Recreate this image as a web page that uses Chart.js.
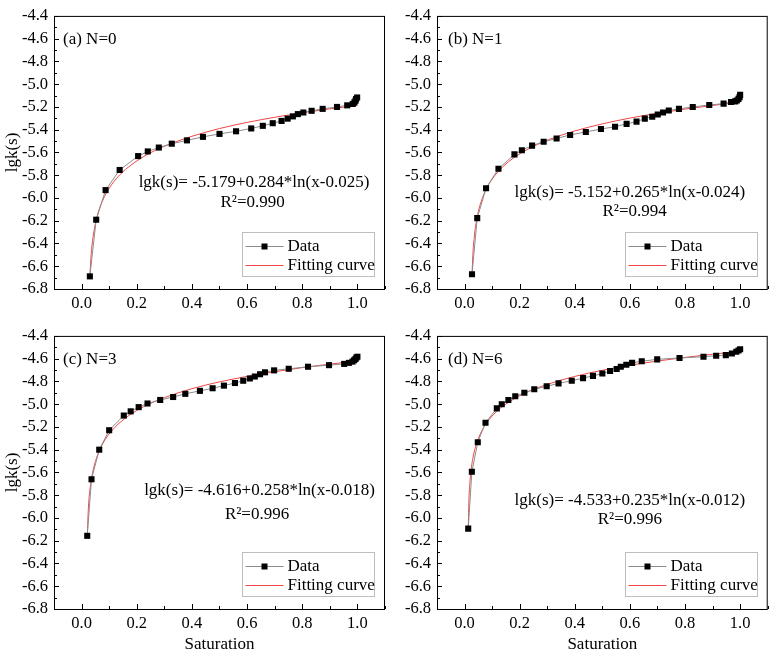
<!DOCTYPE html>
<html>
<head>
<meta charset="utf-8">
<script src="https://cdn.jsdelivr.net/npm/chart.js@4.4.1/dist/chart.umd.min.js"></script>
<style>
body{margin:0;background:#fff;width:772px;height:655px;position:relative;overflow:hidden}
canvas{position:absolute}
</style>
</head>
<body>
<canvas id="cA" width="392" height="320" style="left:0;top:0"></canvas>
<canvas id="cB" width="386" height="320" style="left:386px;top:0"></canvas>
<canvas id="cC" width="392" height="335" style="left:0;top:320px"></canvas>
<canvas id="cD" width="386" height="335" style="left:386px;top:320px"></canvas>
<script>
// tick labels
const xTicks = [0, 0.2, 0.4, 0.6, 0.8, 1.0];
const yTicks = [-6.8, -6.6, -6.4, -6.2, -6.0, -5.8, -5.6, -5.4, -5.2, -5.0, -4.8, -4.6, -4.4];

// (a) N=0
const satA = [0.030, 0.053, 0.087, 0.138, 0.205, 0.240, 0.280, 0.327, 0.382, 0.440, 0.500, 0.560, 0.615, 0.657, 0.693, 0.725, 0.747, 0.766, 0.784, 0.804, 0.834, 0.874, 0.926, 0.963, 0.983, 0.989, 0.993, 0.995, 0.999];
const lgkA = [-6.689, -6.191, -5.931, -5.754, -5.632, -5.591, -5.557, -5.523, -5.494, -5.463, -5.437, -5.414, -5.389, -5.366, -5.343, -5.323, -5.303, -5.283, -5.263, -5.249, -5.234, -5.217, -5.200, -5.186, -5.174, -5.160, -5.146, -5.131, -5.117];
const fitXA = [0.030, 0.035, 0.040, 0.050, 0.060, 0.075, 0.090, 0.110, 0.140, 0.180, 0.230, 0.300, 0.400, 0.500, 0.600, 0.700, 0.800, 0.900, 1.000];
const fitYA = [-6.684, -6.487, -6.372, -6.227, -6.131, -6.030, -5.955, -5.879, -5.793, -5.709, -5.629, -5.546, -5.458, -5.390, -5.336, -5.291, -5.251, -5.217, -5.186];

// (b) N=1
const satB = [0.027, 0.046, 0.078, 0.123, 0.181, 0.208, 0.245, 0.287, 0.334, 0.383, 0.440, 0.495, 0.546, 0.588, 0.624, 0.654, 0.681, 0.701, 0.720, 0.741, 0.778, 0.828, 0.888, 0.940, 0.967, 0.982, 0.988, 0.994, 0.998, 1.000];
const lgkB = [-6.671, -6.177, -5.914, -5.743, -5.617, -5.580, -5.540, -5.506, -5.477, -5.446, -5.420, -5.394, -5.374, -5.349, -5.329, -5.303, -5.286, -5.266, -5.249, -5.231, -5.217, -5.200, -5.183, -5.171, -5.157, -5.151, -5.143, -5.129, -5.114, -5.094];
const fitXB = [0.027, 0.030, 0.035, 0.040, 0.050, 0.060, 0.075, 0.090, 0.110, 0.140, 0.180, 0.230, 0.300, 0.400, 0.500, 0.600, 0.700, 0.800, 0.900, 1.000];
const fitYB = [-6.691, -6.508, -6.347, -6.248, -6.119, -6.033, -5.941, -5.872, -5.802, -5.723, -5.644, -5.571, -5.493, -5.411, -5.349, -5.298, -5.256, -5.219, -5.187, -5.158];

// (c) N=3
const satC = [0.0205, 0.036, 0.064, 0.100, 0.153, 0.178, 0.207, 0.239, 0.285, 0.332, 0.376, 0.429, 0.475, 0.516, 0.556, 0.586, 0.610, 0.628, 0.647, 0.665, 0.698, 0.751, 0.821, 0.897, 0.952, 0.969, 0.982, 0.988, 0.993, 0.996, 1.000];
const lgkC = [-6.157, -5.660, -5.400, -5.229, -5.100, -5.063, -5.026, -4.994, -4.963, -4.937, -4.909, -4.883, -4.860, -4.837, -4.814, -4.794, -4.774, -4.757, -4.737, -4.720, -4.703, -4.689, -4.671, -4.657, -4.646, -4.637, -4.626, -4.614, -4.603, -4.591, -4.583];
const fitXC = [0.0205, 0.025, 0.030, 0.035, 0.045, 0.055, 0.070, 0.085, 0.105, 0.135, 0.175, 0.225, 0.300, 0.400, 0.500, 0.600, 0.700, 0.800, 0.900, 1.000];
const fitYC = [-6.162, -5.896, -5.757, -5.667, -5.548, -5.467, -5.379, -5.313, -5.246, -5.170, -5.094, -5.022, -4.943, -4.864, -4.804, -4.756, -4.715, -4.679, -4.648, -4.621];

// (d) N=6
const satD = [0.0133, 0.0265, 0.048, 0.076, 0.117, 0.135, 0.159, 0.184, 0.217, 0.253, 0.298, 0.341, 0.389, 0.430, 0.466, 0.500, 0.528, 0.552, 0.567, 0.587, 0.608, 0.643, 0.699, 0.780, 0.867, 0.913, 0.948, 0.970, 0.986, 0.994, 1.000];
const lgkD = [-6.094, -5.594, -5.334, -5.163, -5.037, -5.000, -4.963, -4.931, -4.900, -4.869, -4.843, -4.817, -4.794, -4.771, -4.751, -4.731, -4.709, -4.691, -4.671, -4.654, -4.637, -4.623, -4.606, -4.594, -4.583, -4.574, -4.569, -4.554, -4.540, -4.529, -4.517];
const fitXD = [0.0133, 0.016, 0.020, 0.025, 0.030, 0.040, 0.050, 0.065, 0.080, 0.100, 0.130, 0.170, 0.220, 0.300, 0.400, 0.500, 0.600, 0.700, 0.800, 0.900, 1.000];
const fitYD = [-6.095, -5.831, -5.668, -5.554, -5.477, -5.373, -5.302, -5.223, -5.165, -5.104, -5.035, -4.967, -4.902, -4.826, -4.756, -4.702, -4.658, -4.621, -4.589, -4.561, -4.536];

const serif = "'Liberation Serif', 'Times New Roman', serif";
const dataGrey = '#8c8c8c';
const fitRed = 'rgb(240,70,70)';

// frame, inward ticks, legend box and text labels
const frame = {
  id: 'frame',
  afterDraw(chart, args, o) {
    const {ctx, chartArea: a, scales: {x, y}} = chart;
    ctx.save();
    ctx.strokeStyle = '#000';
    ctx.lineWidth = 1;
    ctx.strokeRect(a.left + 0.5, a.top + 0.5, a.right - a.left - 1, a.bottom - a.top);
    ctx.beginPath();
    x.ticks.forEach(t => {
      let px = Math.round(x.getPixelForValue(t.value)) + 0.5;
      ctx.moveTo(px, a.bottom); ctx.lineTo(px, a.bottom - 5);
      px = Math.round(x.getPixelForValue(t.value + 0.1)) + 0.5;
      ctx.moveTo(px, a.bottom); ctx.lineTo(px, a.bottom - 3);
    });
    y.ticks.forEach(t => {
      let py = Math.round(y.getPixelForValue(t.value)) + 0.5;
      ctx.moveTo(a.left, py); ctx.lineTo(a.left + 5, py);
      if (t.value + 0.1 < y.max) {
        py = Math.round(y.getPixelForValue(t.value + 0.1)) + 0.5;
        ctx.moveTo(a.left, py); ctx.lineTo(a.left + 3, py);
      }
    });
    ctx.stroke();

    ctx.fillStyle = '#000';
    ctx.font = '17px ' + serif;
    ctx.textBaseline = 'middle';
    ctx.textAlign = 'left';
    ctx.fillText(o.tag, a.left + o.tagDx, a.top + 24);

    ctx.textAlign = 'center';
    ctx.fillText(o.formula, x.getPixelForValue(o.fx), y.getPixelForValue(o.fy));
    ctx.fillText(o.r2, x.getPixelForValue(o.rx), y.getPixelForValue(o.ry));

    // legend
    const bw = 132, bh = 44;
    const bx = Math.round(a.right - 11 - bw) + 0.5, by = Math.round(a.bottom - 13 - bh) + 0.5;
    ctx.strokeStyle = '#bdbdbd';
    ctx.strokeRect(bx, by, bw, bh);
    ctx.strokeStyle = dataGrey;
    ctx.beginPath(); ctx.moveTo(bx + 3, by + 14); ctx.lineTo(bx + 41, by + 14); ctx.stroke();
    ctx.fillStyle = '#000';
    ctx.fillRect(bx + 19, by + 11, 6, 6);
    ctx.strokeStyle = fitRed;
    ctx.beginPath(); ctx.moveTo(bx + 3, by + 33); ctx.lineTo(bx + 41, by + 33); ctx.stroke();
    ctx.textAlign = 'left';
    ctx.fillText('Data', bx + 45, by + 14);
    ctx.fillText('Fitting curve', bx + 45, by + 33);
    ctx.restore();
  }
};

function makeChart(id, p) {
  new Chart(document.getElementById(id), {
    type: 'line',
    data: {
      datasets: [
        {
          label: 'Data',
          data: p.sat.map((v, i) => ({x: v, y: p.lgk[i]})),
          borderColor: dataGrey, borderWidth: 1, tension: 0,
          pointStyle: 'rect', pointRadius: 4.3, pointBorderWidth: 0,
          pointBackgroundColor: '#000'
        },
        {
          label: 'Fitting curve',
          data: p.fitX.map((v, i) => ({x: v, y: p.fitY[i]})),
          borderColor: fitRed, borderWidth: 1, pointRadius: 0,
          cubicInterpolationMode: 'monotone'
        }
      ]
    },
    options: {
      responsive: false, animation: false, devicePixelRatio: 1,
      layout: {padding: {left: 0, top: 9, right: p.padR, bottom: 0}},
      plugins: {
        legend: {display: false}, tooltip: {enabled: false},
        frame: {tag: p.tag, tagDx: p.tagDx, formula: p.formula, r2: p.r2, fx: p.fx, fy: p.fy, rx: p.rx, ry: p.ry}
      },
      scales: {
        x: {
          type: 'linear', min: -0.1, max: 1.1,
          afterBuildTicks: s => { s.ticks = xTicks.map(v => ({value: v})); },
          afterFit: s => { s.height = p.xH; },
          grid: {display: false, drawTicks: false}, border: {display: false},
          ticks: {autoSkip: false, maxRotation: 0, padding: 5, color: '#000', font: {size: 16.5, family: serif}, callback: v => Number(v).toFixed(1)},
          title: {display: p.xTitle, text: 'Saturation', color: '#000', font: {size: 17, family: serif}, padding: 0}
        },
        y: {
          type: 'linear', min: -6.8, max: -4.4,
          afterBuildTicks: s => { s.ticks = yTicks.map(v => ({value: v})); },
          afterFit: s => { s.width = p.yW; },
          grid: {display: false, drawTicks: false}, border: {display: false},
          ticks: {autoSkip: false, padding: 6, color: '#000', font: {size: 16.5, family: serif}, callback: v => Number(v).toFixed(1)},
          title: {display: p.yTitle, text: 'lgk(s)', color: '#000', font: {size: 17, family: serif}, padding: {top: 2, bottom: 0}}
        }
      }
    },
    plugins: [frame]
  });
}

makeChart('cA', {sat: satA, lgk: lgkA, fitX: fitXA, fitY: fitYA, tag: '(a) N=0', tagDx: 9,
  formula: 'lgk(s)= -5.179+0.284*ln(x-0.025)', r2: 'R²=0.990', fx: 0.625, fy: -5.866, rx: 0.62, ry: -6.037,
  padR: 7, yW: 54, xH: 31, xTitle: false, yTitle: true});
makeChart('cB', {sat: satB, lgk: lgkB, fitX: fitXB, fitY: fitYB, tag: '(b) N=1', tagDx: 11,
  formula: 'lgk(s)= -5.152+0.265*ln(x-0.024)', r2: 'R²=0.994', fx: 0.600, fy: -5.951, rx: 0.617, ry: -6.123,
  padR: 4, yW: 51, xH: 31, xTitle: false, yTitle: false});
makeChart('cC', {sat: satC, lgk: lgkC, fitX: fitXC, fitY: fitYC, tag: '(c) N=3', tagDx: 9,
  formula: 'lgk(s)= -4.616+0.258*ln(x-0.018)', r2: 'R²=0.996', fx: 0.645, fy: -5.763, rx: 0.636, ry: -5.969,
  padR: 7, yW: 54, xH: 46, xTitle: true, yTitle: true});
makeChart('cD', {sat: satD, lgk: lgkD, fitX: fitXD, fitY: fitYD, tag: '(d) N=6', tagDx: 11,
  formula: 'lgk(s)= -4.533+0.235*ln(x-0.012)', r2: 'R²=0.996', fx: 0.600, fy: -5.849, rx: 0.600, ry: -6.012,
  padR: 4, yW: 51, xH: 46, xTitle: true, yTitle: false});
</script>
</body>
</html>
